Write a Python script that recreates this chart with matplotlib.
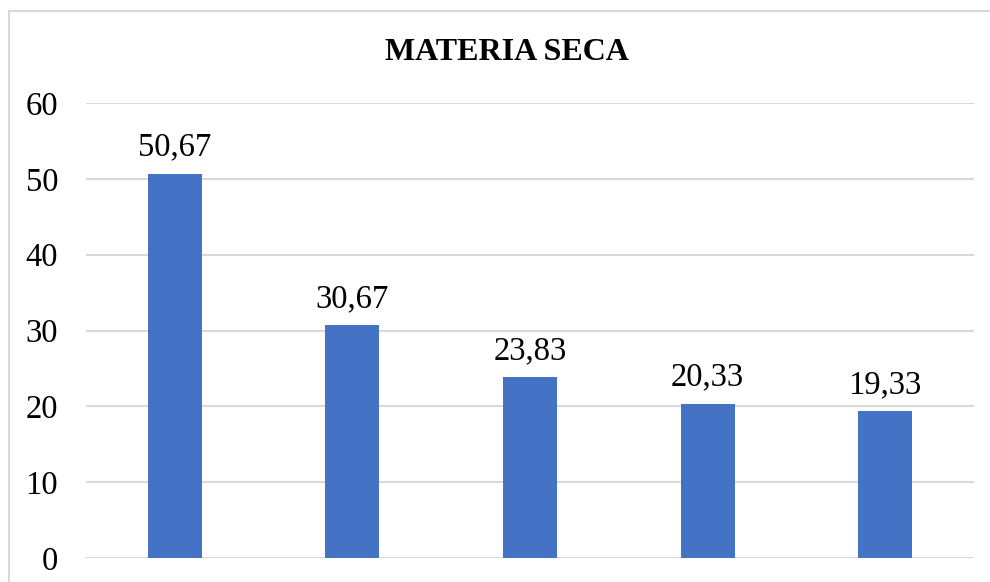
import matplotlib.pyplot as plt
from matplotlib.patches import Rectangle

# veriler
kategoriler = ["1", "2", "3", "4", "5"]
degerler = [50.67, 30.67, 23.83, 20.33, 19.33]
etiketler = ["50,67", "30,67", "23,83", "20,33", "19,33"]
y_tikler = [0, 10, 20, 30, 40, 50, 60]

RENK = "#4472C4"
IZGARA = "#d9d9d9"

plt.rcParams["font.family"] = ["Liberation Serif", "DejaVu Serif"]

fig = plt.figure(figsize=(9.9, 5.82), dpi=100)
ax = fig.add_axes([86 / 990, 1 - 558 / 582, 888 / 990, (558 - 103) / 582])

x = range(len(kategoriler))
ax.bar(list(x), degerler, width=0.304, color=RENK, zorder=3)

for i, (v, e) in enumerate(zip(degerler, etiketler)):
    ax.annotate(e, xy=(i, v), xytext=(0, 8), textcoords="offset points",
                ha="center", va="bottom", fontsize=23.5, color="black")

ax.set_xlim(-0.5, len(kategoriler) - 0.5)
ax.set_ylim(0, 60)
ax.set_yticks(y_tikler)
ax.set_xticks([])
ax.tick_params(axis="y", length=0, pad=20, labelsize=23.5)
ax.grid(axis="y", color=IZGARA, linewidth=1.5, zorder=0)
for s in ax.spines.values():
    s.set_visible(False)

fig.text(507 / 990, 1 - 52 / 582, "MATERIA SECA", ha="center", va="center",
         fontsize=23, fontweight="bold")

# grafik çerçevesi
fig.patches.append(Rectangle((9 / 990, -0.1), 1.1, 1.1 - 11 / 582,
                             transform=fig.transFigure, fill=False,
                             edgecolor=IZGARA, linewidth=1.5))

fig.savefig("out.png", dpi=100)
